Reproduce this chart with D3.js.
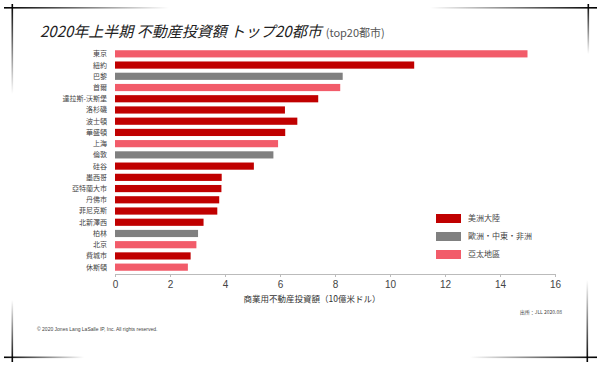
<!DOCTYPE html>
<html><head><meta charset="utf-8">
<script src="https://cdn.jsdelivr.net/npm/d3@7"></script>
<style>body{margin:0;background:#fff}svg{display:block;font-family:"Noto Sans CJK JP","Noto Sans",sans-serif}</style>
</head><body><svg id="c" width="600" height="366"></svg>
<script>
const cities = ["東京","紐約","巴黎","首爾","達拉斯-沃斯堡","洛杉磯","波士頓","華盛頓","上海","倫敦","硅谷","墨西哥","亞特蘭大市","丹佛市","菲尼克斯","北新澤西","柏林","北京","費城市","休斯頓"];
const values = [15.0,10.88,8.28,8.19,7.39,6.18,6.63,6.19,5.93,5.76,5.05,3.88,3.87,3.79,3.72,3.22,3.02,2.96,2.75,2.65];
const regions = ["asia","am","eu","asia","am","am","am","am","asia","eu","am","am","am","am","am","am","eu","asia","am","asia"];
const legendKeys = ["am","eu","asia"];
const legendLabels = ["美洲大陸","歐洲・中東・非洲","亞太地區"];
const xTicks = [0,2,4,6,8,10,12,14,16];

const svg = d3.select("#c");
const color = d3.scaleOrdinal().domain(legendKeys).range(["#c00000","#808080","#f25c6a"]);
const x = d3.scaleLinear().domain([0,16]).range([115,555]);
const y = d3.scaleBand().domain(cities).range([48,273]).paddingInner(0.36).paddingOuter(0.2);

// decorative frame
const defs = svg.append("defs");
function grad(id,x1,y1,x2,y2){
  const g=defs.append("linearGradient").attr("id",id).attr("x1",x1).attr("y1",y1).attr("x2",x2).attr("y2",y2);
  g.append("stop").attr("offset","0").attr("stop-color","#000").attr("stop-opacity",1);
  g.append("stop").attr("offset","1").attr("stop-color","#000").attr("stop-opacity",0);
}
grad("gr","0","0","1","0"); grad("gl","1","0","0","0"); grad("gd","0","0","0","1"); grad("gu","0","1","0","0");
const fr = svg.append("g");
fr.append("rect").attr("x",4).attr("y",7).attr("width",165).attr("height",1.6).attr("fill","url(#gr)");
fr.append("rect").attr("x",11.5).attr("y",4).attr("width",1.6).attr("height",90).attr("fill","url(#gd)");
fr.append("rect").attr("x",430).attr("y",7).attr("width",167).attr("height",1.6).attr("fill","url(#gl)");
fr.append("rect").attr("x",587.5).attr("y",4).attr("width",1.6).attr("height",50).attr("fill","url(#gd)");
fr.append("rect").attr("x",4).attr("y",356.5).attr("width",80).attr("height",1.6).attr("fill","url(#gr)");
fr.append("rect").attr("x",11.5).attr("y",300).attr("width",1.6).attr("height",62).attr("fill","url(#gu)");
fr.append("rect").attr("x",470).attr("y",356.5).attr("width",127).attr("height",1.6).attr("fill","url(#gl)");
fr.append("rect").attr("x",586.5).attr("y",280).attr("width",1.6).attr("height",82).attr("fill","url(#gu)");

// title
const t = svg.append("text").attr("x",40).attr("y",37);
t.append("tspan").attr("font-size",15).attr("font-style","italic").attr("font-weight",400).attr("fill","#222").text("2020年上半期 不動産投資額  トップ20都市");
t.append("tspan").attr("font-size",11).attr("fill","#555").attr("dx",4).text("(top20都市)");

// bars
svg.append("g").selectAll("rect").data(cities).join("rect")
  .attr("x",x(0)).attr("y",d=>y(d)).attr("height",y.bandwidth())
  .attr("width",(d,i)=>x(values[i])-x(0)).attr("fill",(d,i)=>color(regions[i]));

// category labels
svg.append("g").selectAll("text").data(cities).join("text")
  .attr("x",107).attr("y",d=>y(d)+y.bandwidth()/2).attr("dy","0.35em")
  .attr("text-anchor","end").attr("font-size",7).attr("fill","#444").text(d=>d);

// x axis
const ax = svg.append("g").attr("transform","translate(0,274)")
  .call(d3.axisBottom(x).tickValues(xTicks).tickSize(3).tickPadding(4).tickFormat(d3.format("d")));
ax.select(".domain").attr("stroke","#bbb");
ax.selectAll(".tick line").attr("stroke","#bbb");
ax.selectAll("text").attr("font-size",10).attr("fill","#444").attr("font-family","Liberation Sans, Arial, sans-serif");

svg.append("text").attr("x",312).attr("y",302).attr("text-anchor","middle").attr("font-size",8.5).attr("fill","#333").text("商業用不動産投資額（10億米ドル）");
svg.append("text").attr("x",562).attr("y",314).attr("text-anchor","end").attr("font-size",5).attr("fill","#444").text("出所：JLL 2020.08");
svg.append("text").attr("x",37).attr("y",331).attr("font-size",5).attr("fill","#444").attr("font-family","Liberation Sans, Arial, sans-serif").text("© 2020 Jones Lang LaSalle IP, Inc. All rights reserved.");

// legend
const lg = svg.append("g").selectAll("g").data(legendKeys).join("g")
  .attr("transform",(d,i)=>`translate(436,${214+i*18})`);
lg.append("rect").attr("width",25).attr("height",9).attr("fill",d=>color(d));
lg.append("text").attr("x",32).attr("y",4.5).attr("dy","0.35em").attr("font-size",8).attr("fill","#444").text((d,i)=>legendLabels[i]);
</script></body></html>
